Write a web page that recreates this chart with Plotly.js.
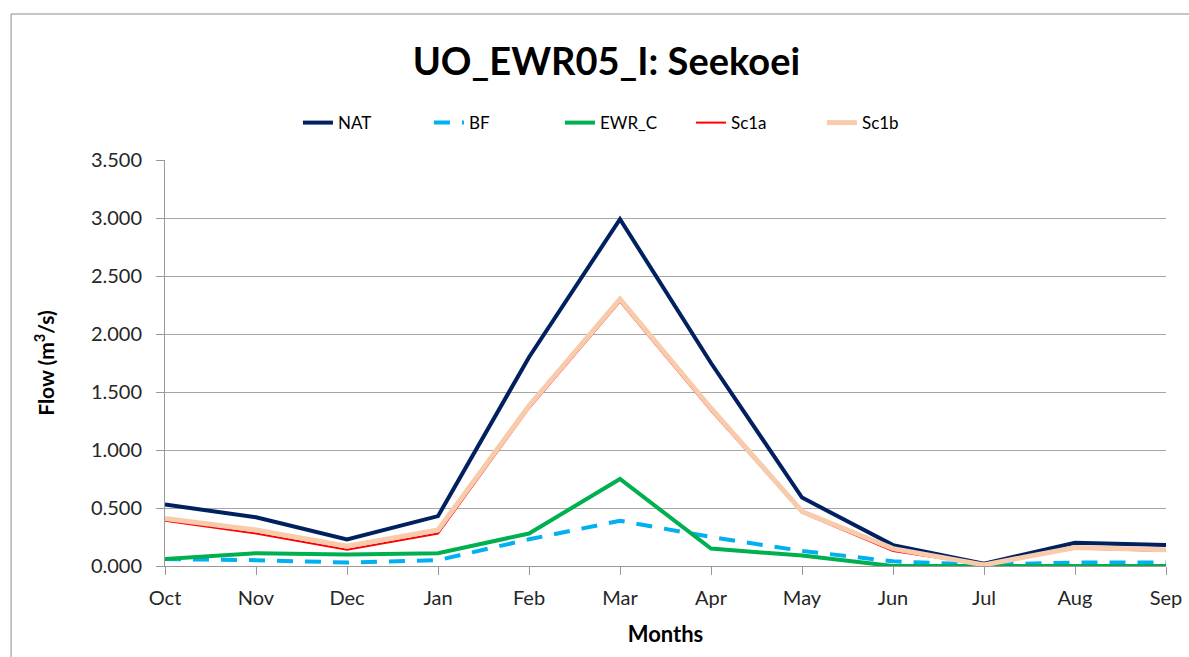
<!DOCTYPE html>
<html><head><meta charset="utf-8">
<script src="https://cdn.plot.ly/plotly-3.0.1.min.js"></script>
<style>html,body{margin:0;padding:0;background:#fff}#chart{width:1189px;height:657px}</style>
</head><body><div id="chart"></div>
<script>
const months = ["Oct","Nov","Dec","Jan","Feb","Mar","Apr","May","Jun","Jul","Aug","Sep"];
const NAT   = [0.53,0.42,0.23,0.43,1.80,2.99,1.75,0.59,0.18,0.02,0.20,0.18];
const BF    = [0.06,0.05,0.03,0.05,0.23,0.39,0.25,0.13,0.04,0.01,0.03,0.03];
const EWR_C = [0.06,0.11,0.10,0.11,0.28,0.75,0.15,0.09,0.00,0.00,0.00,0.00];
const Sc1a  = [0.39,0.28,0.14,0.28,1.36,2.28,1.34,0.46,0.13,0.01,0.15,0.13];
const Sc1b  = [0.41,0.31,0.17,0.31,1.38,2.30,1.36,0.47,0.15,0.01,0.16,0.14];

const traces = [
  {name:"NAT", y:NAT, line:{color:"#002060", width:4}},
  {name:"BF", y:BF, line:{color:"#00b0f0", width:4, dash:"16px,12px"}},
  {name:"EWR_C", y:EWR_C, line:{color:"#00b050", width:4}},
  {name:"Sc1a", y:Sc1a, line:{color:"#ff0000", width:2}},
  {name:"Sc1b", y:Sc1b, line:{color:"#f8cbad", width:5}}
].map(t => Object.assign({x:months, type:"scatter", mode:"lines"}, t));

const font = "Lato, 'Open Sans', sans-serif";
const layout = {
  width:1189, height:657,
  margin:{l:165, r:23, t:160, b:91},
  paper_bgcolor:"#fff", plot_bgcolor:"#fff",
  font:{family:font, color:"#404040", size:20},
  title:{text:"<b>UO_EWR05_I: Seekoei</b>", x:0.51, xanchor:"center", y:0.906, yref:"container", yanchor:"middle",
         font:{family:font, size:38, color:"#000"}},
  showlegend:true,
  legend:{orientation:"h", x:0.46, xanchor:"center", y:1.091, yanchor:"middle",
          font:{family:font, size:17, color:"#000"}, entrywidth:86, entrywidthmode:"pixels", tracegroupgap:0},
  xaxis:{type:"category", range:[0,11], showgrid:false, showline:true, linecolor:"#999", linewidth:1,
         ticks:"outside", ticklen:8, tickcolor:"#999", tickfont:{size:20, color:"#262626"}, ticklabelstandoff:6,
         title:{text:"<b>Months</b>", font:{size:22, color:"#000"}, standoff:18}, zeroline:false},
  yaxis:{range:[0,3.5], dtick:0.5, tickformat:".3f", showgrid:true, gridcolor:"#a6a6a6", gridwidth:1,
         showline:true, linecolor:"#999", ticks:"outside", ticklen:8, tickcolor:"#999", ticklabelstandoff:10,
         tickfont:{size:20, color:"#262626"}, zeroline:false,
         title:{text:"<b>Flow (m<sup>3</sup>/s)</b>", font:{size:21, color:"#000"}, standoff:30}},
  shapes:[{type:"rect", xref:"paper", yref:"paper", x0:-0.1538, x1:1.2, y0:-0.3, y1:1.3596,
           line:{color:"#8c8c8c", width:1}, fillcolor:"rgba(0,0,0,0)", layer:"below"}]
};
Plotly.newPlot("chart", traces, layout, {displayModeBar:false, staticPlot:true});
</script></body></html>
